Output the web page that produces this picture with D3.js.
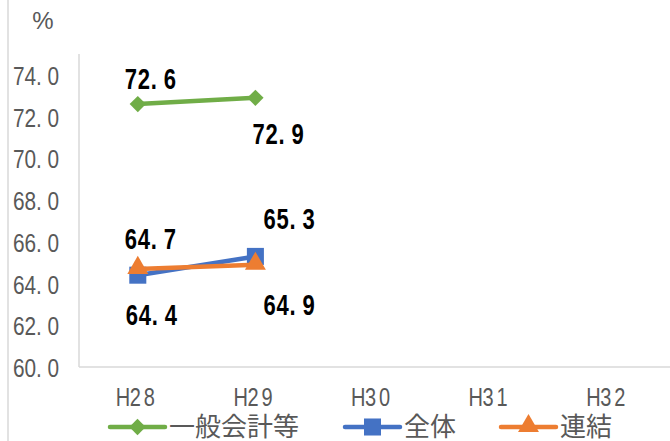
<!DOCTYPE html>
<html>
<head>
<meta charset="utf-8">
<script src="https://cdn.jsdelivr.net/npm/d3@7/dist/d3.min.js"></script>
<style>
  html, body { margin: 0; padding: 0; background: #fff; }
  svg { display: block; }
</style>
</head>
<body>
<svg id="chart" width="670" height="441"></svg>
<script>
// 年度
const years = ["H28", "H29", "H30", "H31", "H32"];
// 系列値（%）
const generalAccount = [72.6, 72.9, null, null, null];   // 一般会計等
const wholeEntity    = [64.4, 65.3, null, null, null];   // 全体
const consolidated   = [64.7, 64.9, null, null, null];   // 連結
// 縦軸目盛
const yTickValues = [60, 62, 64, 66, 68, 70, 72, 74];
const yDomain = [60, 75];
const unitLabel = "%";

const series = [
  { name: "一般会計等", values: generalAccount, color: "#70AD47", marker: "diamond" },
  { name: "全体",       values: wholeEntity,    color: "#4472C4", marker: "square" },
  { name: "連結",       values: consolidated,   color: "#ED7D31", marker: "triangle" }
];

// ラベルの配置（点からのずれ：中心 x, 中心 y）
const labelOffsets = {
  "一般会計等": [[13, -26], [23, 36]],
  "全体":       [[14, 39], [34, -38]],
  "連結":       [[13, -30], [34, 40]]
};

const svg = d3.select("#chart");
const plot = { left: 79, right: 667, top: 54, bottom: 367 };
const gridColor = "#d9d9d9";
const textGray = "#595959";
const sans = "'Liberation Sans', Arial, sans-serif";

const x = d3.scaleBand().domain(years).range([plot.left, plot.right]);
const y = d3.scaleLinear().domain(yDomain).range([plot.bottom, plot.top]);
const cx = d => x(d) + x.bandwidth() / 2;

// 各文字を固定幅のセルに並べ、横方向に詰めた字形で描く
function cellText(sel, str, startX, baseY, cell, sx) {
  const xs = Array.from(str).map((c, i) => (i * cell / sx).toFixed(2));
  sel.text(str)
    .attr("text-anchor", "start")
    .attr("x", xs.join(" "))
    .attr("y", 0)
    .attr("dy", null)
    .attr("transform", `translate(${startX},${baseY}) scale(${sx},1)`);
}

// 外枠
svg.append("line")
  .attr("x1", 8).attr("x2", 8).attr("y1", 0).attr("y2", 441)
  .attr("stroke", gridColor).attr("stroke-width", 1.5);

// 軸線
svg.append("line")
  .attr("x1", plot.left).attr("x2", plot.left)
  .attr("y1", plot.top).attr("y2", plot.bottom)
  .attr("stroke", gridColor).attr("stroke-width", 1.5);
svg.append("line")
  .attr("x1", plot.left).attr("x2", 670)
  .attr("y1", plot.bottom).attr("y2", plot.bottom)
  .attr("stroke", gridColor).attr("stroke-width", 1.5);

// 単位
svg.append("text")
  .attr("x", 43).attr("y", 29)
  .attr("text-anchor", "middle")
  .attr("font-family", sans)
  .attr("font-size", 24)
  .attr("fill", textGray)
  .text(unitLabel);

// 縦軸
const yAxis = svg.append("g")
  .attr("transform", `translate(${plot.left},0)`)
  .call(d3.axisLeft(y).tickValues(yTickValues).tickSize(0).tickFormat(d3.format(".1f")));
yAxis.select(".domain").remove();
yAxis.selectAll("text").each(function(d) {
  const t = d3.select(this);
  const s = d3.format(".1f")(d);
  const cell = 11.5;
  cellText(t, s, 59 - plot.left - s.length * cell, 9.5, cell, 0.8);
  t.attr("font-family", sans).attr("font-size", 26).attr("fill", textGray);
});

// 横軸
const xAxis = svg.append("g")
  .attr("transform", `translate(0,${plot.bottom})`)
  .call(d3.axisBottom(x).tickSize(0));
xAxis.select(".domain").remove();
xAxis.selectAll("text").each(function(d) {
  const t = d3.select(this);
  const cell = 14;
  cellText(t, d, -1 - (d.length * cell) / 2, 39, cell, 0.8);
  t.attr("font-family", sans).attr("font-size", 25).attr("fill", textGray);
});

// マーカー
const markerPath = {
  diamond: d3.symbol().type(d3.symbolDiamond2).size(170),
  square: d3.symbol().type(d3.symbolSquare).size(290),
  triangle: d3.symbol().type(d3.symbolTriangle).size(190)
};
function markerTransform(type) {
  return type === "triangle" ? "translate(0,-1)" : "";
}

const line = d3.line()
  .defined(d => d.v != null)
  .x(d => cx(d.year))
  .y(d => y(d.v));

series.forEach(s => {
  const pts = years.map((year, i) => ({ year, v: s.values[i] }));
  const g = svg.append("g");
  g.append("path")
    .datum(pts)
    .attr("d", line)
    .attr("fill", "none")
    .attr("stroke", s.color)
    .attr("stroke-width", 4.5)
    .attr("stroke-linecap", "round");
  g.selectAll("path.marker")
    .data(pts.filter(p => p.v != null))
    .join("path")
    .attr("class", "marker")
    .attr("d", markerPath[s.marker])
    .attr("transform", p => `translate(${cx(p.year)},${y(p.v)}) ${markerTransform(s.marker)}`)
    .attr("fill", s.color);
});

// データラベル
series.forEach(s => {
  const pts = years.map((year, i) => ({ year, v: s.values[i], i })).filter(p => p.v != null);
  pts.forEach(p => {
    const [dx, dy] = labelOffsets[s.name][p.i];
    const str = d3.format(".1f")(p.v);
    const cell = 13;
    const t = svg.append("text")
      .attr("font-family", sans)
      .attr("font-weight", "bold")
      .attr("font-size", 29)
      .attr("fill", "#000");
    cellText(t, str, cx(p.year) + dx - (str.length * cell) / 2, y(p.v) + dy + 10.5, cell, 0.76);
  });
});

// 凡例
const legendItems = [
  { s: series[0], lineX: 110 },
  { s: series[1], lineX: 345 },
  { s: series[2], lineX: 501 }
];
const legendY = 427;
legendItems.forEach(({ s, lineX }) => {
  const g = svg.append("g");
  g.append("line")
    .attr("x1", lineX).attr("x2", lineX + 55)
    .attr("y1", legendY).attr("y2", legendY)
    .attr("stroke", s.color).attr("stroke-width", 4.5)
    .attr("stroke-linecap", "round");
  g.append("path")
    .attr("d", markerPath[s.marker])
    .attr("transform", `translate(${lineX + 27.5},${legendY}) ${markerTransform(s.marker)}`)
    .attr("fill", s.color);
  g.append("text")
    .attr("x", lineX + 59)
    .attr("y", legendY + 9)
    .attr("font-family", "'Noto Sans CJK JP', sans-serif")
    .attr("font-size", 26)
    .attr("fill", textGray)
    .text(s.name);
});
</script>
</body>
</html>
